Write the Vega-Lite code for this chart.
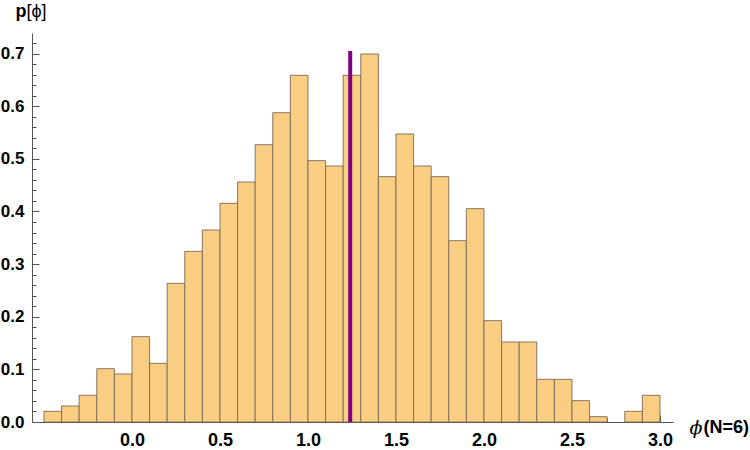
{
  "$schema": "https://vega.github.io/schema/vega-lite/v6.json",
  "width": 641,
  "height": 389,
  "autosize": {"type": "none"},
  "padding": {"left": 32, "top": 33, "right": 77, "bottom": 28},
  "background": "white",
  "config": {
    "view": {"stroke": null},
    "font": "Liberation Sans",
    "axis": {"grid": false, "domainColor": "#555555", "tickColor": "#555555", "labelColor": "#000000", "titleColor": "#000000", "zindex": 1}
  },
  "datasets": {
    "bins": [
      {"start": -0.5, "end": -0.4, "p": 0.0203},
      {"start": -0.4, "end": -0.3, "p": 0.0304},
      {"start": -0.3, "end": -0.2, "p": 0.0507},
      {"start": -0.2, "end": -0.1, "p": 0.1013},
      {"start": -0.1, "end": 0.0, "p": 0.0912},
      {"start": 0.0, "end": 0.1, "p": 0.1621},
      {"start": 0.1, "end": 0.2, "p": 0.1114},
      {"start": 0.2, "end": 0.3, "p": 0.2634},
      {"start": 0.3, "end": 0.4, "p": 0.3242},
      {"start": 0.4, "end": 0.5, "p": 0.3647},
      {"start": 0.5, "end": 0.6, "p": 0.4154},
      {"start": 0.6, "end": 0.7, "p": 0.4559},
      {"start": 0.7, "end": 0.8, "p": 0.5268},
      {"start": 0.8, "end": 0.9, "p": 0.5876},
      {"start": 0.9, "end": 1.0, "p": 0.6586},
      {"start": 1.0, "end": 1.1, "p": 0.4965},
      {"start": 1.1, "end": 1.2, "p": 0.4863},
      {"start": 1.2, "end": 1.3, "p": 0.6586},
      {"start": 1.3, "end": 1.4, "p": 0.6991},
      {"start": 1.4, "end": 1.5, "p": 0.4661},
      {"start": 1.5, "end": 1.6, "p": 0.5471},
      {"start": 1.6, "end": 1.7, "p": 0.4863},
      {"start": 1.7, "end": 1.8, "p": 0.4661},
      {"start": 1.8, "end": 1.9, "p": 0.3445},
      {"start": 1.9, "end": 2.0, "p": 0.4053},
      {"start": 2.0, "end": 2.1, "p": 0.1925},
      {"start": 2.1, "end": 2.2, "p": 0.152},
      {"start": 2.2, "end": 2.3, "p": 0.152},
      {"start": 2.3, "end": 2.4, "p": 0.0811},
      {"start": 2.4, "end": 2.5, "p": 0.0811},
      {"start": 2.5, "end": 2.6, "p": 0.0405},
      {"start": 2.6, "end": 2.7, "p": 0.0101},
      {"start": 2.8, "end": 2.9, "p": 0.0203},
      {"start": 2.9, "end": 3.0, "p": 0.0507}
    ],
    "marker": [
      {"phi": 1.24, "base": 0, "top": 0.705}
    ]
  },
  "resolve": {"axis": {"x": "independent", "y": "independent"}},
  "layer": [
    {
      "data": {"name": "bins"},
      "mark": {"type": "rect", "fill": "#F9CE83", "stroke": "#7d6b55", "strokeWidth": 1, "strokeOpacity": 0.9},
      "encoding": {
        "x": {
          "field": "start", "type": "quantitative",
          "scale": {"domain": [-0.568, 3.074], "nice": false, "zero": false},
          "axis": {
            "orient": "bottom",
            "values": [0, 0.5, 1, 1.5, 2, 2.5, 3],
            "format": ".1f",
            "tickSize": -7,
            "labelPadding": 16,
            "labelFont": "Liberation Sans", "labelFontSize": 18, "labelFontWeight": "bold",
            "title": "ϕ",
            "titleFont": "DejaVu Serif", "titleFontStyle": "italic", "titleFontWeight": "normal", "titleFontSize": 19,
            "titleX": 657, "titleY": 5, "titleAlign": "left", "titleBaseline": "middle", "titleAngle": 0
          }
        },
        "x2": {"field": "end"},
        "y": {
          "field": "p", "type": "quantitative",
          "scale": {"domain": [0, 0.739], "nice": false},
          "axis": {
            "orient": "left",
            "values": [0, 0.1, 0.2, 0.3, 0.4, 0.5, 0.6, 0.7],
            "format": ".1f",
            "tickSize": -7,
            "labelPadding": 15,
            "labelFont": "Liberation Sans", "labelFontSize": 17, "labelFontWeight": "bold",
            "title": "p",
            "titleFont": "Liberation Sans", "titleFontSize": 18, "titleFontWeight": "bold",
            "titleX": -17, "titleY": -17, "titleAlign": "left", "titleBaseline": "alphabetic", "titleAngle": 0
          }
        },
        "y2": {"value": 389}
      }
    },
    {
      "data": {"name": "marker"},
      "mark": {"type": "rule", "color": "#800080", "strokeWidth": 4},
      "encoding": {
        "x": {
          "field": "phi", "type": "quantitative",
          "scale": {"domain": [-0.568, 3.074], "nice": false, "zero": false},
          "axis": {
            "orient": "bottom",
            "values": [-0.5, -0.4, -0.3, -0.2, -0.1, 0, 0.1, 0.2, 0.3, 0.4, 0.5, 0.6, 0.7, 0.8, 0.9, 1, 1.1, 1.2, 1.3, 1.4, 1.5, 1.6, 1.7, 1.8, 1.9, 2, 2.1, 2.2, 2.3, 2.4, 2.5, 2.6, 2.7, 2.8, 2.9, 3],
            "labels": false,
            "domain": false,
            "tickSize": -4,
            "title": "(N=6)",
            "titleFont": "Liberation Sans", "titleFontSize": 18, "titleFontWeight": "bold",
            "titleX": 671, "titleY": 5, "titleAlign": "left", "titleBaseline": "middle", "titleAngle": 0
          }
        },
        "y": {
          "field": "base", "type": "quantitative",
          "scale": {"domain": [0, 0.739], "nice": false},
          "axis": {
            "orient": "left",
            "values": [0.02, 0.04, 0.06, 0.08, 0.12, 0.14, 0.16, 0.18, 0.22, 0.24, 0.26, 0.28, 0.32, 0.34, 0.36, 0.38, 0.42, 0.44, 0.46, 0.48, 0.52, 0.54, 0.56, 0.58, 0.62, 0.64, 0.66, 0.68, 0.72],
            "labels": false,
            "domain": false,
            "tickSize": -4,
            "title": "[ϕ]",
            "titleFont": "Liberation Sans", "titleFontSize": 18, "titleFontWeight": "normal",
            "titleX": -6, "titleY": -17, "titleAlign": "left", "titleBaseline": "alphabetic", "titleAngle": 0
          }
        },
        "y2": {"field": "top"}
      }
    }
  ]
}
